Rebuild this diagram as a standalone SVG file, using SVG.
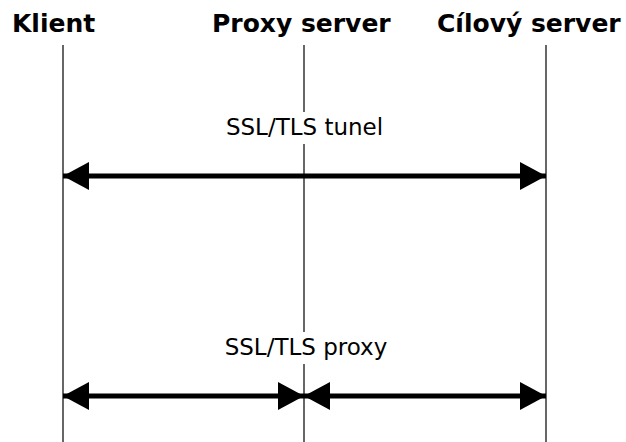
<svg xmlns="http://www.w3.org/2000/svg" width="626" height="442" viewBox="0 0 626 442">
  <style>
    .title { font-family: "DejaVu Sans", sans-serif; font-weight: bold; font-size: 25px; fill: #000; }
    .label { font-family: "DejaVu Sans", sans-serif; font-size: 23px; fill: #000; text-anchor: middle; }
    .life { stroke: #000; stroke-width: 1.2; fill: none; }
    .msg { stroke: #000; stroke-width: 5; fill: none; }
    .head { fill: #000; stroke: none; }
  </style>
  <defs>
    <marker id="arrow" viewBox="0 0 26 28" refX="26" refY="14" markerWidth="26" markerHeight="28" markerUnits="userSpaceOnUse" orient="auto-start-reverse">
      <path class="head" d="M0,0 L26,14 L0,28 Z"/>
    </marker>
  </defs>
  <rect width="626" height="442" fill="#fff"/>

  <g id="klient">
    <text class="title" x="12" y="32">Klient</text>
    <line class="life" x1="63" y1="45" x2="63" y2="442"/>
  </g>
  <g id="proxy-server">
    <text class="title" x="212" y="32">Proxy server</text>
    <line class="life" x1="304" y1="45" x2="304" y2="442"/>
  </g>
  <g id="cilovy-server">
    <text class="title" x="437" y="32">Cílový server</text>
    <line class="life" x1="546" y1="45" x2="546" y2="442"/>
  </g>

  <g id="connectors">
    <line class="msg" x1="63" y1="176" x2="546" y2="176" marker-start="url(#arrow)" marker-end="url(#arrow)"/>
    <line class="msg" x1="63" y1="396" x2="304" y2="396" marker-start="url(#arrow)" marker-end="url(#arrow)"/>
    <line class="msg" x1="304" y1="396" x2="546" y2="396" marker-start="url(#arrow)" marker-end="url(#arrow)"/>
  </g>

  <g id="labels">
    <rect x="218" y="112" width="172" height="32" fill="#fff"/>
    <text class="label" x="304.5" y="135">SSL/TLS tunel</text>
    <rect x="218" y="332" width="178" height="32" fill="#fff"/>
    <text class="label" x="306" y="355">SSL/TLS proxy</text>
  </g>
</svg>
